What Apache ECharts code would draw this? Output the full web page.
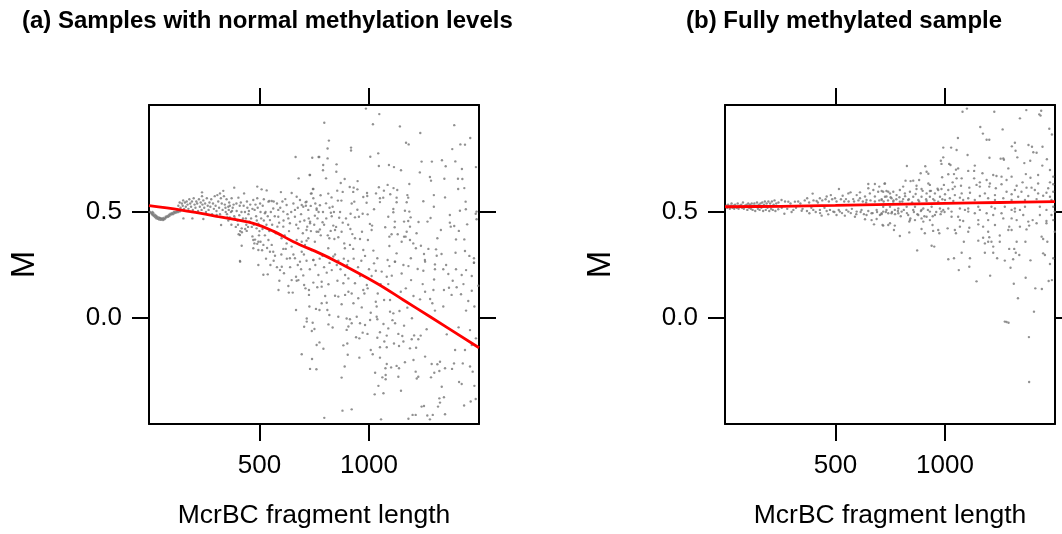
<!DOCTYPE html>
<html><head><meta charset="utf-8">
<style>html,body{margin:0;padding:0;background:#fff}#c{width:1062px;height:534px}</style>
<script src="https://cdn.jsdelivr.net/npm/echarts@6/dist/echarts.min.js"></script>
</head><body><div id="c"></div>
<script>
const titles = ["(a) Samples with normal methylation levels", "(b) Fully methylated sample"];
const xTicks = [500, 1000];
const yTicks = [0, 0.5];
const xName = "McrBC fragment length";
const yName = "M";

const curveA = [[-4,.53],[137,.51],[320,.477],[472,.447],[563,.41],[655,.36],[776,.305],[838,.274],[1035,.164],[1157,.085],[1279,.006],[1502,-.14]];
const curveB = [[-4,.525],[250,.527],[500,.531],[750,.536],[1000,.541],[1250,.545],[1502,.549]];

const samplesA = [
[2,.5],[6,.495],[10,.49],[12,.5],[14,.485],[16,.495],[20,.48],[22,.488],[25,.475],[28,.483],[30,.47],[33,.478],[36,.468],[40,.475],[42,.465],[46,.472],[50,.463],[52,.47],[56,.468],[60,.462],[62,.472],[66,.466],[70,.47],[72,.478],[76,.475],[80,.482],[84,.478],[88,.488],[90,.482],[94,.492],[98,.488],[102,.496],[106,.49],[110,.5],[114,.495],[118,.502],[122,.498],[126,.506],[130,.5],[134,.51],[138,.504],[142,.51],
[130,.53],[136,.545],[140,.52],[146,.54],[150,.53],[152,.555],[156,.515],[160,.545],[164,.525],[168,.55],[172,.535],[176,.515],[180,.56],[184,.54],[188,.525],[192,.55],[196,.51],[200,.565],[204,.535],[208,.52],[212,.55],[216,.54],[220,.505],[224,.56],[228,.525],[232,.545],[236,.51],[238,.575],[240,.535],[244,.555],[248,.52],[252,.54],[256,.5],[260,.565],[264,.53],[268,.51],[272,.545],[276,.525],[280,.56],[284,.49],[288,.54],[292,.515],[296,.575],[300,.53],[304,.505],[308,.58],[312,.55],[316,.52],[320,.49],[324,.565],[328,.54],[332,.51],[335,.6],[338,.575],[342,.535],[346,.5],[350,.56],[354,.475],[358,.525],[362,.545],
[153,.47],[194,.47],[244,.467],[325,.439],[305,.486],[238,.593],[320,.588],
[385,.615],[373,.565],[404,.568],[395,.54],[378,.52],[370,.5],[385,.48],[400,.46],[372,.44],[392,.43],[365,.475],[360,.51],[410,.53],[418,.5],[430,.588],[425,.47],[440,.44],[412,.41],[405,.395],[420,.405],[445,.52],[450,.49],[435,.42],[455,.455],[465,.43],[472,.557],[478,.51],[485,.48],[490,.565],[490,.62],[495,.445],[500,.41],[468,.385],[480,.37],[490,.35],[505,.5],[510,.607],[515,.53],[520,.46],[525,.39],[535,.33],[505,.36],[512,.32],[533,.602],[598,.594],[647,.59],[545,.552],[618,.561],[685,.557],[715,.549],[746,.565],[670,.572],[738,.588],
[665,.76],[741,.756],[770,.76],[729,.675],[679,.659],[744,.609],
[624,.533],[662,.51],[609,.502],[586,.51],[563,.517],[541,.549],[556,.552],[525,.494],[548,.462],[586,.478],[632,.47],[662,.478],[700,.525],[723,.51],[761,.517],[731,.447],[685,.455],[639,.447],[609,.431],[582,.431],[769,.407],[715,.415],[677,.423],[723,.376],[670,.368],[647,.337],[609,.326],[563,.313],[548,.313],[518,.345],[495,.36],[472,.329],[693,.313],[571,.294],[639,.282],[662,.282],[685,.266],[746,.274],[411,.269],[472,.368],[487,.423],[419,.423],[411,.392],[419,.341],[442,.411],[477,.352],[495,.321],[541,.368],[556,.345],[601,.376],[624,.352],[620,.326],[708,.345],[738,.321],
[345,.52],[352,.49],[358,.46],[365,.53],[375,.505],[382,.535],[388,.47],[396,.505],[402,.44],[408,.485],[415,.545],[422,.46],[428,.53],[434,.5],[438,.47],[443,.55],[448,.43],[452,.505],[458,.535],[462,.47],[468,.515],[474,.44],[482,.535],[488,.46],[492,.52],[498,.39],[503,.54],[508,.47],[514,.42],[520,.56],[528,.5],[532,.44],[538,.48],[545,.41],[552,.5],[558,.44],[565,.55],[570,.48],[575,.4],[580,.54],[590,.45],[595,.52],[605,.55],[610,.46],[615,.39],[628,.49],[635,.41],[645,.5],[655,.54],[668,.44],[675,.52],[690,.49],[698,.4],[705,.46],[712,.53],[725,.47],[735,.41],[750,.44],[755,.54],[765,.47],[770,.5],[780,.39],[790,.5],[795,.44],[805,.47],[812,.39],[820,.52],[830,.48],[840,.5],[850,.43],[868,.5],[880,.45],[895,.47],[905,.44],[915,.42],
[530,.28],[550,.25],[565,.27],[580,.24],[600,.3],[625,.28],[640,.24],[655,.3],[675,.25],[690,.23],[715,.27],[730,.23],[755,.25],[775,.28],[795,.24],[820,.26],[845,.3],[870,.23],[885,.28],[900,.25],[930,.28],[950,.24],[965,.27],[1000,.23],
[986,.988],[1047,.962],[796,.921],[1018,.914],[1141,.904],[1234,.873],[1389,.91],[1462,.849],[817,.837],[1169,.827],[1181,.819],[1417,.819],[1438,.818],[1380,.797],[918,.804],[918,.79],[811,.8],[1042,.777],[1006,.761],[773,.76],[811,.753],[1240,.738],[1287,.738],[1333,.744],[1394,.739],[852,.725],[791,.722],[1045,.717],[1091,.722],[1114,.712],[1350,.716],[1488,.712],[790,.697],[851,.69],[1146,.697],[1232,.687],[1424,.703],[731,.675],[804,.659],[889,.656],[1278,.665],[1283,.648],[1344,.657],[1406,.657],[1426,.656],[871,.637],[948,.646],[1085,.628],[1184,.632],[912,.618],[930,.615],[947,.607],[1045,.617],[1112,.613],[1407,.609],[1435,.613],[746,.609],[855,.601],[880,.595],[928,.595],[1068,.601],[1129,.604],[735,.587],[779,.579],[814,.587],[991,.59],[1032,.588],[1097,.584],[1175,.58],[1296,.58],[1347,.569],[974,.571],[992,.576],[1065,.568],[829,.569],[1050,.565],[1126,.568],[1179,.568],[858,.554],[874,.554],[933,.549],[921,.54],[989,.544],[1050,.547],[1126,.546],[1172,.546],[1248,.551],[1441,.549],[776,.532],[804,.541],[734,.529],[834,.525],[1296,.525],[711,.546],[693,.533],[1023,.513],[947,.511],[1111,.514],[1164,.506],[1184,.502],[1415,.506],[1442,.513],[1491,.502],[1487,.492],[826,.497],[761,.51],[916,.492],[971,.492],[994,.489],[1111,.499],[1369,.486],[1491,.466],[753,.483],[864,.473],[936,.475],[954,.478],[1088,.478],[1190,.475],[1281,.472],[1118,.455],[1160,.455],[1179,.458],[1226,.453],[1267,.455],[1369,.45],[1373,.431],[1389,.434],[1448,.442],[731,.455],[788,.452],[837,.436],[1004,.444],[1014,.436],[1117,.428],[1074,.428],[1187,.431],[1328,.415],[1410,.411],[968,.407],[1012,.415],[1172,.407],[1217,.4],[761,.407],[776,.418],[718,.431],[825,.411],[845,.415],[875,.407],[924,.396],[1103,.395],[1131,.395],[1160,.384],[1167,.384],[1312,.376],[1397,.371],[1435,.371],[1093,.384],[959,.373],[995,.368],[1187,.368],[819,.376],[842,.373],[860,.381],[936,.376],[887,.352],[913,.345],[1093,.34],[1149,.36],[1202,.352],[1214,.329],[1237,.341],[1271,.326],[1306,.324],[1020,.318],[974,.321],[928,.326],[890,.329],[1126,.305],[1251,.302],[1331,.302],[1395,.308],[1438,.316],[1458,.293],[1479,.282],[1309,.294],[1038,.282],[982,.293],[1191,.282],[1255,.274],[1479,.261],[715,.365],[753,.36],[693,.36],[814,.329],[746,.274],[788,.294],[837,.29],[860,.271],[905,.269],[703,.3],[1118,.266],[1023,.258],[1085,.274],
[412,.266],[495,.25],[518,.204],[538,.206],[591,.176],[587,.132],[594,.226],[602,.242],[612,.211],[647,.179],[632,.151],[634,.12],[652,.12],[670,.176],[678,.179],[667,.195],[700,.201],[704,.156],[710,.14],[726,.132],[726,.109],[667,.038],[728,.054],[758,.043],[774,.038],[784,.07],[807,.072],[800,.104],[810,.038],[716,-.002],[716,-.017],[743,-.022],[704,-.041],[739,-.061],[751,-.052],[819,.014],[815,-.03],[834,-.045],[860,.006],[898,-.002],[913,-.006],[944,.006],[921,-.025],[906,-.04],[898,-.056],[959,-.025],[982,-.033],[1005,-.009],[1035,.006],[971,-.069],[993,-.075],[941,-.091],[956,-.096],[774,-.115],[761,-.127],[792,-.145],[883,-.129],[901,-.12],[693,-.171],[740,-.193],[903,-.173],[956,-.187],[731,-.24],[760,-.242],[889,-.229],[875,-.281],[796,-.471],[879,-.437],[921,-.431],[1055,-.478],[1180,-.475],[1199,-.457],[1213,-.457],[1266,-.46],[1278,-.478],[1291,-.457],[1347,-.454],[1240,-.418],[1251,-.415],[1315,-.418],[1321,-.379],[1324,-.399],[1342,-.374],[1434,-.413],[1464,-.394],[1487,-.382],[1043,-.32],[1026,-.36],[1066,-.355],[1146,-.343],[1332,-.324],[1411,-.302],[1423,-.311],[1481,-.32],
[1028,-.258],[1061,-.28],[1076,-.269],[1076,-.289],[1134,-.277],[1213,-.253],[1225,-.277],[1218,-.285],[1283,-.28],[1298,-.258],[1321,-.25],[1347,-.237],[1379,-.24],[1388,-.214],[1428,-.214],[1461,-.229],[1473,-.253],[1075,-.237],[1081,-.217],[1101,-.233],[1126,-.226],[1137,-.237],[1164,-.209],[1203,-.198],[1256,-.182],[1286,-.217],[1312,-.218],[1324,-.206],
[1008,-.151],[1017,-.171],[1050,-.187],[1050,-.138],[1070,-.111],[1081,-.138],[1114,-.12],[1137,-.132],[1157,-.111],[1187,-.143],[1215,-.14],[1195,-.1],[1225,-.1],[1236,-.083],[1206,-.082],[1263,-.053],[1355,-.077],[1393,-.151],[1438,-.151],[1469,-.127],[1488,-.096],[1461,-.057],[1409,-.044],
[1066,-.028],[1088,-.049],[1050,-.067],[1081,-.083],[1038,-.093],[1134,-.075],[1152,-.085],[1160,-.036],[1196,-.001],[1139,.033],[1111,.022],[1096,.03],[1175,.049],[1107,-.01],[1119,-.025],[1035,.054],[1008,.025],[1038,-.006],
[1069,.085],[1096,.085],[1031,.077],[1040,.116],[994,.14],[979,.116],[974,.132],[921,.116],[951,.093],[891,.109],[860,.101],[845,.105],[875,.065],[929,.07],[967,.05],[906,.124],[906,.187],[883,.164],[936,.164],[856,.176],[815,.159],[784,.171],[784,.148],[764,.145],[746,.167],[769,.203],[807,.214],[830,.226],[891,.203],[853,.25],[959,.198],[990,.156],[1012,.198],[1031,.223],[1058,.219],[1081,.195],[1104,.2],[1053,.16],[1088,.16],[1145,.124],[1168,.14],[1192,.179],[1149,.21],[1180,.245],[1157,.25],[1119,.266],[1093,.245],[1203,.104],[1233,.088],[1245,.16],[1256,.124],[1294,.132],[1279,.09],[1289,.07],[1301,.035],[1339,.054],[1342,.132],[1377,.109],[1420,.112],[1453,.08],[1443,.035],[1481,.054],[1469,.129],[1431,.16],[1400,.145],[1365,.143],[1382,.176],[1339,.23],[1362,.208],[1397,.23],[1423,.203],[1443,.226],[1469,.198],[1499,.152],[1479,.261],[1297,.182],[1301,.23],[1301,.253],[1352,.25],[1256,.266],[1248,.223],[1222,.231]
];

const samplesB = [
[2,.53],[6,.52],[10,.535],[14,.525],[18,.515],[22,.53],[26,.54],[30,.52],[34,.53],[38,.515],[42,.535],[46,.525],[50,.52],[54,.54],[58,.515],[62,.53],[66,.525],[70,.535],[74,.52],[78,.545],[82,.515],[86,.53],[90,.525],[94,.535],[98,.51],[102,.54],[106,.52],[110,.535],[114,.515],[118,.54],[122,.51],[126,.53],[130,.54],[134,.505],[138,.53],[142,.545],[146,.515],[150,.535],[154,.51],[158,.54],[162,.52],[166,.545],[170,.505],[174,.535],[178,.55],[182,.51],[186,.54],[190,.52],[194,.55],[198,.505],[202,.54],[206,.515],[210,.55],[214,.51],[218,.535],[222,.555],[226,.505],[230,.54],
[254,.557],[285,.549],[315,.549],[371,.565],[396,.587],[414,.552],[429,.565],[460,.573],[479,.58],[516,.609],[498,.565],[533,.577],[559,.588],[569,.593],[548,.561],[597,.58],[612,.593],[650,.632],[650,.612],[680,.632],[700,.62],[726,.635],[657,.588],[673,.604],[695,.596],[718,.596],[741,.596],[733,.573],[635,.573],[612,.565],[680,.573],[581,.561],[642,.557],[711,.561],
[267,.492],[381,.494],[437,.483],[467,.489],[505,.486],[543,.483],[589,.478],[635,.466],[665,.462],[688,.467],[676,.442],[718,.436],[741,.439],[642,.486],[597,.502],[559,.502],[520,.502],[490,.502],[460,.505],[429,.51],[399,.51],[346,.506],[308,.51],[239,.513],[688,.51],[718,.502],[741,.494],[619,.51],[665,.494],[703,.486],
[240,.545],[255,.52],[270,.55],[280,.515],[295,.54],[300,.5],[320,.52],[330,.55],[340,.54],[350,.515],[360,.555],[370,.505],[380,.545],[390,.52],[400,.555],[410,.5],[420,.545],[430,.495],[440,.555],[450,.52],[455,.56],[470,.55],[475,.51],[485,.56],[495,.5],[505,.55],[515,.51],[525,.56],[530,.495],[540,.55],[550,.51],[560,.55],[570,.495],[575,.515],[585,.55],[595,.49],[605,.555],[615,.5],[625,.55],[630,.49],[640,.545],[650,.505],[660,.555],[670,.495],[680,.55],[690,.5],[700,.555],[710,.49],[720,.55],[730,.5],[740,.555],
[752,.57],[758,.5],[765,.555],[772,.49],[778,.56],[785,.505],[792,.57],[798,.48],[805,.55],[812,.51],[818,.575],[826,.495],[835,.56],[842,.47],[850,.545],[858,.5],[866,.585],[874,.49],[882,.55],[890,.505],[898,.6],[906,.48],[914,.56],[922,.51],[936,.6],[944,.48],[952,.555],[960,.5],[966,.61],[980,.49],[988,.56],[998,.5],
[1100,.988],[1080,.973],[1225,.973],[1371,.981],[1439,.978],[1430,.961],[1436,.955],[1342,.942],[1161,.901],[1263,.89],[1476,.893],[1488,.866],[1173,.87],[1190,.841],[1202,.841],[1059,.849],[1319,.827],[1305,.81],[1381,.816],[1397,.808],[1445,.808],[992,.804],[1028,.804],[1053,.793],[1322,.789],[1403,.782],[1418,.78],[1103,.769],[1330,.758],[1203,.756],[1254,.752],[1266,.753],[1269,.747],[992,.758],[981,.742],[984,.727],[1465,.749],[1362,.731],[1389,.742],[1019,.727],[1025,.722],[1136,.719],[1289,.706],[1444,.719],[826,.717],[910,.716],[1060,.706],[1050,.7],[1479,.698],[1369,.679],[889,.683],[916,.69],[924,.681],[1015,.678],[1041,.679],[1106,.694],[1133,.694],[1171,.683],[1220,.675],[1235,.67],[1258,.667],[1304,.667],[1425,.675],[1390,.662],[1494,.667],[987,.664],[1053,.659],[1076,.659],[1133,.659],[1190,.651],[855,.648],[882,.651],[820,.648],[843,.646],[1281,.651],[1035,.64],[1159,.64],[1205,.635],[1258,.631],[1354,.64],[1425,.635],[1479,.64],[1494,.631],[724,.634],[924,.635],[931,.628],[809,.62],[870,.624],[893,.609],[870,.609],[995,.628],[1045,.62],[1073,.624],[1111,.615],[1144,.628],[1159,.62],[1202,.62],[1232,.612],[1327,.624],[1372,.615],[1395,.615],[1471,.612],[931,.599],[969,.604],[984,.609],[1015,.604],[1035,.609],[794,.604],[733,.599],[711,.599],[764,.596],[840,.596],[1076,.588],[1114,.591],[1182,.588],[1281,.596],[1319,.604],[1349,.596],[1410,.604],[1425,.588],[1463,.591],[1494,.596],[749,.588],[817,.588],[916,.588],[954,.588],[1000,.584],[1045,.58],[1159,.576],[1228,.58],[1304,.584],[1334,.572],[1380,.576],[1448,.577],[1479,.572],
[726,.572],[779,.58],[855,.572],[893,.572],[931,.572],[977,.572],[1022,.565],[1068,.568],[1106,.565],[1136,.557],[1197,.565],[1266,.565],[1365,.557],[1418,.561],[1486,.557],[756,.565],[809,.561],[711,.557],[832,.557],[878,.557],[946,.561],[1000,.557],[1083,.557],[1228,.557],[1304,.557],[764,.549],[794,.549],[916,.552],[969,.549],[1038,.552],
[718,.525],[749,.525],[787,.517],[825,.525],[863,.525],[901,.517],[939,.525],[977,.517],[1015,.517],[1068,.517],[1106,.517],[1152,.525],[1212,.525],[1273,.525],[1319,.517],[1365,.525],[1433,.525],[1494,.525],
[733,.51],[771,.51],[802,.502],[855,.51],[893,.51],[931,.502],[992,.51],[1030,.502],[1091,.51],[1159,.51],[1228,.517],[1304,.51],[1342,.51],[1463,.51],
[711,.494],[756,.494],[787,.494],[832,.486],[878,.486],[916,.478],[954,.486],[984,.502],[1030,.478],[1060,.478],[1106,.502],[1136,.494],[1190,.494],[1220,.486],[1258,.494],[1319,.502],[1357,.486],[1433,.486],[1486,.486],[1501,.502],
[840,.462],[863,.462],[893,.47],[901,.455],[931,.462],[1068,.462],[1083,.458],[1152,.462],[1197,.462],[1266,.47],[1304,.47],[1327,.462],[1463,.458],[1494,.462],[1380,.455],[1400,.462],[1418,.447],
[715,.439],[749,.447],[771,.436],[837,.455],[943,.439],[1045,.415],[1068,.431],[1111,.426],[1152,.442],[1174,.431],[1228,.439],[1293,.431],[1304,.415],[1342,.431],[1372,.418],[1463,.447],[1384,.436],
[767,.415],[837,.404],[893,.42],[946,.411],[974,.4],[1012,.423],[1050,.4],[1106,.407],[1197,.407],[1289,.415],[1501,.407],[794,.387],[908,.4],[969,.415],[1174,.379],[1250,.389],[1441,.384],[1448,.373],[1086,.36],[1152,.365],[1202,.381],[1182,.352],[1197,.36],[1212,.36],[1250,.36],[1327,.36],[1367,.36],[1467,.36],
[939,.341],[951,.337],[873,.319],[1220,.337],[1293,.326],[1316,.326],[1323,.308],[1339,.297],[1076,.308],[1182,.308],[1220,.308],[1448,.305],[1456,.297],[1494,.282],[1015,.277],[1041,.282],[1114,.282],[1238,.282],[1273,.271],[1311,.277],[1390,.272],
[1063,.226],[1111,.242],[1206,.2],[1144,.173],[1299,.237],[1368,.19],[1314,.162],[1412,.14],[1442,.137],[1473,.175],[1488,.179],[1479,.255],[1333,.093],[1406,.03],[1273,-.017],[1281,-.019],[1290,-.022],[1383,-.09],[1384,-.302]
];

const FONT = "Liberation Sans";
const boxTop = 105, boxH = 319, boxW = 330, lefts = [149, 725];
const BLACK = "#000";
const line = {show:true, onZero:false, lineStyle:{color:BLACK, width:2}};
const tick = vals => ({show:true, length:17, customValues:vals, lineStyle:{color:BLACK, width:2}});

const grids=[], xAxes=[], yAxes=[], series=[], title=[];
[[samplesA,curveA],[samplesB,curveB]].forEach(([pts,curve],i)=>{
  grids.push({left:lefts[i], top:boxTop, width:boxW, height:boxH, containLabel:false});
  const xBase = {type:"value", gridIndex:i, min:-4, max:1502, splitLine:{show:false}, axisLine:line, axisTick:tick(xTicks)};
  const yBase = {type:"value", gridIndex:i, min:-0.5, max:1.005, splitLine:{show:false}, axisLine:line, axisTick:tick(yTicks)};
  xAxes.push({...xBase, position:"bottom", name:xName, nameLocation:"middle", nameGap:78,
    nameTextStyle:{fontFamily:FONT,fontSize:26.5,color:BLACK},
    axisLabel:{show:true, customValues:xTicks, margin:29, fontFamily:FONT, fontSize:26, color:BLACK, formatter:v=>String(v)}});
  xAxes.push({...xBase, position:"top", axisLabel:{show:false}});
  yAxes.push({...yBase, position:"left", name:yName, nameLocation:"middle", nameGap:108, nameRotate:90,
    nameTextStyle:{fontFamily:FONT,fontSize:33,color:BLACK},
    axisLabel:{show:true, customValues:yTicks, margin:27, fontFamily:FONT, fontSize:26, color:BLACK, padding:[4,0,0,0], formatter:v=>v.toFixed(1)}});
  yAxes.push({...yBase, position:"right", axisLabel:{show:false}});
  series.push({type:"scatter", xAxisIndex:i*2, yAxisIndex:i*2, data:pts, symbol:"circle", symbolSize:2.4, itemStyle:{color:"#757575"}, clip:true, silent:true, z:2});
  series.push({type:"line", xAxisIndex:i*2, yAxisIndex:i*2, data:curve, smooth:0.35, showSymbol:false, symbol:"none", lineStyle:{color:"#ff0000", width:2.8}, clip:true, silent:true, z:3});
});
title.push({text:titles[0], left:17, top:4, textStyle:{fontFamily:FONT,fontSize:24,fontWeight:"bold",color:BLACK}});
title.push({text:titles[1], left:681, top:4, textStyle:{fontFamily:FONT,fontSize:24,fontWeight:"bold",color:BLACK}});

const chart = echarts.init(document.getElementById("c"), null, {renderer:"canvas"});
chart.setOption({animation:false, backgroundColor:"#fff", title, grid:grids, xAxis:xAxes, yAxis:yAxes, series});
</script></body></html>
